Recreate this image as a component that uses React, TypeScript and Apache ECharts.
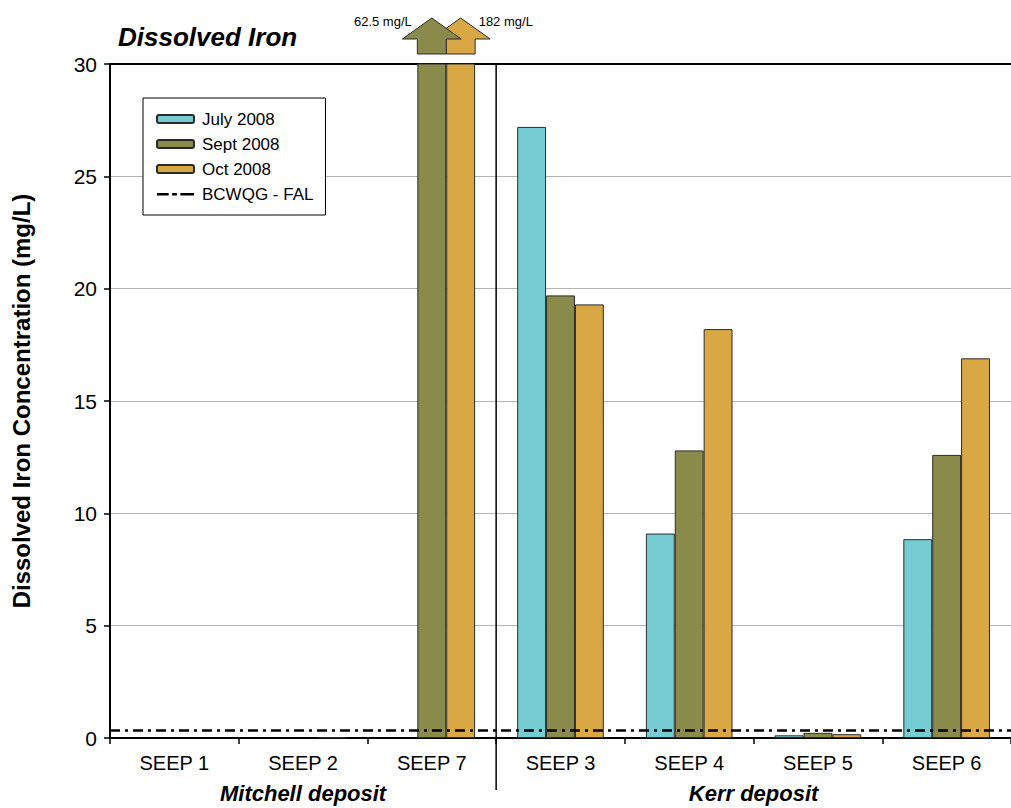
import React, { useEffect, useRef } from "react";
import * as echarts from "echarts";

// Seep sampling sites, grouped by deposit
const categories = ["SEEP 1", "SEEP 2", "SEEP 7", "SEEP 3", "SEEP 4", "SEEP 5", "SEEP 6"];
const mitchellSites = ["SEEP 1", "SEEP 2", "SEEP 7"];
const kerrSites = ["SEEP 3", "SEEP 4", "SEEP 5", "SEEP 6"];

// Dissolved iron concentration (mg/L)
const july2008 = [null, null, null, 27.2, 9.1, 0.12, 8.85];
const sept2008 = [null, null, 62.5, 19.7, 12.8, 0.23, 12.6];
const oct2008 = [null, 0.03, 182, 19.3, 18.2, 0.17, 16.9];

// BC water quality guideline, freshwater aquatic life
const guidelineFAL = 0.35;

const seriesNames = ["July 2008", "Sept 2008", "Oct 2008"];
const seriesColors = ["#75CDD3", "#8A8A4B", "#D9A845"];
const guidelineName = "BCWQG - FAL";

const Y_MIN = 0;
const Y_MAX = 30;
const Y_STEP = 5;

const CATEGORY_GAP = 0.327;
const SANS = "'Liberation Sans', Arial, sans-serif";

// Dash-dot legend glyph; the two specks fix the icon's bounding box so the stroke stays thin
const DASH_DOT_ICON =
  "path://M0 0h0.01v0.01h-0.01z M38 8h0.01v0.01h-0.01z M0 3h12v2.6h-12z M15.5 3h5v2.6h-5z M24 3h14v2.6h-14z";

export default function App() {
  const ref = useRef<HTMLDivElement>(null);

  useEffect(() => {
    document.body.style.margin = "0";
    if (!ref.current) return;
    const chart = echarts.init(ref.current, undefined, { renderer: "svg" });

    const values = [july2008, sept2008, oct2008];

    // Off-scale values get an arrow above the plot instead of a full bar
    const offScale: any[] = [];
    [2, 1].forEach((s) => {
      values[s].forEach((v, i) => {
        if (v != null && v > Y_MAX) offScale.push([i, s - 1, v, s]);
      });
    });

    const barSeries = values.map((data, s) => ({
      name: seriesNames[s],
      type: "bar",
      data,
      barGap: "0%",
      barCategoryGap: (CATEGORY_GAP * 100).toFixed(1) + "%",
      itemStyle: { color: seriesColors[s], borderColor: "#2b2b2b", borderWidth: 1 },
      silent: true,
    }));

    chart.setOption({
      animation: false,
      grid: { left: 110, right: -3, top: 64, bottom: 70, containLabel: false },
      legend: {
        data: [
          ...seriesNames.map((name) => ({ name })),
          { name: guidelineName, icon: DASH_DOT_ICON },
        ],
        orient: "vertical",
        left: 143,
        top: 98,
        padding: [11, 12, 11, 13],
        itemGap: 5,
        itemWidth: 37,
        itemHeight: 8,
        backgroundColor: "#fff",
        borderColor: "#000",
        borderWidth: 1,
        borderRadius: 0,
        selectedMode: false,
        textStyle: {
          fontFamily: SANS,
          fontSize: 17,
          color: "#000",
          lineHeight: 20,
          padding: [0, 0, 0, 3],
        },
      },
      xAxis: [
        {
          type: "category",
          data: categories,
          position: "bottom",
          axisLine: { lineStyle: { color: "#000", width: 2 } },
          axisTick: { show: true, length: 6, lineStyle: { color: "#000", width: 1.5 } },
          axisLabel: { fontFamily: SANS, fontSize: 20, color: "#000", margin: 15 },
          splitLine: { show: false },
        },
        {
          type: "category",
          data: categories,
          position: "top",
          axisLine: { lineStyle: { color: "#000", width: 2 } },
          axisTick: { show: false },
          axisLabel: { show: false },
        },
      ],
      yAxis: {
        type: "value",
        min: Y_MIN,
        max: Y_MAX,
        interval: Y_STEP,
        name: "Dissolved Iron Concentration (mg/L)",
        nameLocation: "middle",
        nameGap: 77,
        nameTextStyle: { fontFamily: SANS, fontWeight: "bold", fontSize: 24, color: "#000" },
        axisLine: { show: true, lineStyle: { color: "#000", width: 2 } },
        axisTick: { show: true, length: 6, lineStyle: { color: "#000", width: 1.5 } },
        axisLabel: { fontFamily: SANS, fontSize: 21, color: "#000", margin: 13 },
        splitLine: { show: true, lineStyle: { color: "#b4b4b4", width: 1 } },
      },
      title: {
        text: "Dissolved Iron",
        left: 113,
        top: 19,
        textStyle: { fontFamily: SANS, fontSize: 26, fontWeight: "bold", fontStyle: "italic", color: "#000" },
      },
      series: [
        ...barSeries,
        {
          // Guideline: drawn as a mark line; kept on the secondary axis so it takes no bar slot
          name: guidelineName,
          type: "bar",
          xAxisIndex: 1,
          data: [],
          itemStyle: { color: "#000", borderWidth: 0 },
          markLine: {
            silent: true,
            symbol: ["none", "none"],
            label: { show: false },
            lineStyle: { color: "#000", width: 2.5, type: [10, 5, 3, 5] },
            data: [{ yAxis: guidelineFAL }],
          },
        },
        {
          type: "custom",
          name: "offscale",
          data: offScale,
          clip: false,
          z: 5,
          silent: true,
          renderItem: (params: any, api: any) => {
            const cat = api.value(0);
            const off = api.value(1);
            const v = api.value(2);
            const s = api.value(3);
            const top = api.coord([cat, Y_MAX]);
            const band = api.size([1, 0])[0];
            const w = (band * (1 - CATEGORY_GAP)) / 3;
            const cx = top[0] + off * w;
            const y0 = top[1];
            const tipY = y0 - 46;
            const headY = y0 - 25;
            const baseY = y0 - 10;
            const hw = w * 1.02;
            const bw = w / 2;
            const left = off <= 0;
            return {
              type: "group",
              children: [
                {
                  type: "polygon",
                  shape: {
                    points: [
                      [cx, tipY],
                      [cx + hw, headY],
                      [cx + bw, headY],
                      [cx + bw, baseY],
                      [cx - bw, baseY],
                      [cx - bw, headY],
                      [cx - hw, headY],
                    ],
                  },
                  style: { fill: seriesColors[s], stroke: "#2b2b2b", lineWidth: 1 },
                },
                {
                  type: "text",
                  x: left ? cx - 20 : cx + 18,
                  y: tipY + 3,
                  style: {
                    text: `${v} mg/L`,
                    fill: "#000",
                    fontFamily: SANS,
                    fontSize: 13,
                    align: left ? "right" : "left",
                    verticalAlign: "middle",
                  },
                },
              ],
            };
          },
        },
      ],
    });

    // Deposit group labels and the divider between the two deposits
    const px = (name: string) => chart.convertToPixel({ xAxisIndex: 0 }, name) as number;
    const band = px(categories[1]) - px(categories[0]);
    const center = (names: string[]) => (px(names[0]) + px(names[names.length - 1])) / 2;
    const divX = px(mitchellSites[mitchellSites.length - 1]) + band / 2;
    const topY = chart.convertToPixel({ yAxisIndex: 0 }, Y_MAX) as number;
    const bottomY = chart.convertToPixel({ yAxisIndex: 0 }, Y_MIN) as number;
    const groupStyle = {
      fill: "#000",
      fontFamily: SANS,
      fontSize: 22,
      fontWeight: "bold",
      fontStyle: "italic",
      align: "center",
      verticalAlign: "middle",
    };

    chart.setOption({
      graphic: [
        {
          type: "line",
          shape: { x1: divX, y1: topY, x2: divX, y2: bottomY + 52 },
          style: { stroke: "#000", lineWidth: 1.5 },
          z: 10,
        },
        { type: "text", x: center(mitchellSites), y: bottomY + 55, style: { ...groupStyle, text: "Mitchell deposit" } },
        { type: "text", x: center(kerrSites), y: bottomY + 55, style: { ...groupStyle, text: "Kerr deposit" } },
      ],
    });

    return () => chart.dispose();
  }, []);

  return <div ref={ref} style={{ width: 1011, height: 808 }} />;
}
